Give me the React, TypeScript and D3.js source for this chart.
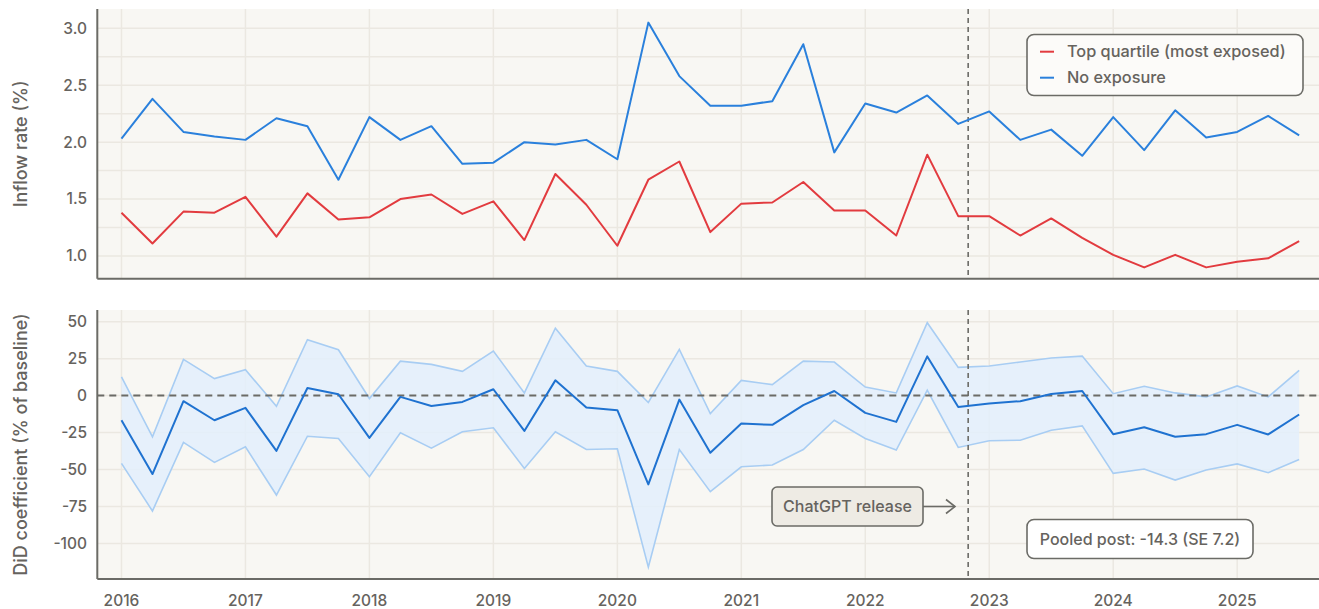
import React from "react";
import * as d3 from "d3";

// Quarterly periods 2016Q1 .. 2025Q3
const periods: number[] = [
  2016, 2016.25, 2016.5, 2016.75, 2017, 2017.25, 2017.5, 2017.75,
  2018, 2018.25, 2018.5, 2018.75, 2019, 2019.25, 2019.5, 2019.75,
  2020, 2020.25, 2020.5, 2020.75, 2021, 2021.25, 2021.5, 2021.75,
  2022, 2022.25, 2022.5, 2022.75, 2023, 2023.25, 2023.5, 2023.75,
  2024, 2024.25, 2024.5, 2024.75, 2025, 2025.25, 2025.5,
];

const topQuartile: number[] = [
  1.38, 1.11, 1.39, 1.38, 1.52, 1.17, 1.55, 1.32, 1.34, 1.50, 1.54,
  1.37, 1.48, 1.14, 1.72, 1.45, 1.09, 1.67, 1.83, 1.21, 1.46, 1.47,
  1.65, 1.40, 1.40, 1.18, 1.89, 1.35, 1.35, 1.18, 1.33, 1.16, 1.01,
  0.90, 1.01, 0.90, 0.95, 0.98, 1.13,
];

const noExposure: number[] = [
  2.03, 2.38, 2.09, 2.05, 2.02, 2.21, 2.14, 1.67, 2.22, 2.02, 2.14,
  1.81, 1.82, 2.00, 1.98, 2.02, 1.85, 3.05, 2.58, 2.32, 2.32, 2.36,
  2.86, 1.91, 2.34, 2.26, 2.41, 2.16, 2.27, 2.02, 2.11, 1.88, 2.22,
  1.93, 2.28, 2.04, 2.09, 2.23, 2.06,
];

const didCoef: number[] = [
  -16.7, -53.1, -3.8, -16.7, -8.3, -37.4, 5.1, 0.9, -28.6, -0.9, -7.0,
  -4.3, 4.3, -23.9, 10.3, -8.1, -9.9, -60.1, -2.7, -38.7, -18.9, -19.8,
  -6.5, 3.1, -11.7, -17.8, 26.5, -7.7, -5.4, -3.8, 1.1, 3.1, -26.1,
  -21.4, -27.9, -26.1, -19.8, -26.3, -12.8,
];

const didUpper: number[] = [
  12.6, -27.9, 24.5, 11.5, 17.5, -7.2, 37.8, 31.0, -2.0, 23.3, 21.1,
  16.4, 30.1, 1.8, 45.6, 20.0, 16.4, -4.7, 31.2, -12.2, 10.3, 7.4,
  23.3, 22.7, 5.8, 1.8, 49.3, 19.1, 20.0, 22.7, 25.4, 26.7, 1.3,
  6.3, 1.8, -0.9, 6.5, -0.9, 17.1,
];

const didLower: number[] = [
  -45.9, -78.1, -31.7, -45.2, -34.7, -67.3, -27.5, -29.0, -54.9, -25.2, -35.6,
  -24.5, -21.8, -49.3, -24.5, -36.5, -36.0, -116.1, -36.5, -65.0, -48.2, -47.0,
  -36.5, -16.7, -29.0, -36.9, 3.6, -35.1, -30.6, -30.2, -23.4, -20.5, -52.6,
  -49.7, -57.2, -50.4, -46.2, -52.2, -43.2,
];

const yearTicks: number[] = [2016, 2017, 2018, 2019, 2020, 2021, 2022, 2023, 2024, 2025];
const topTicks: number[] = [1.0, 1.5, 2.0, 2.5, 3.0];
const topGrid: number[] = [1.0, 1.25, 1.5, 1.75, 2.0, 2.25, 2.5, 2.75, 3.0];
const bottomTicks: number[] = [-100, -75, -50, -25, 0, 25, 50];
const releaseDate = 2022.83;
const legendLabels: string[] = ["Top quartile (most exposed)", "No exposure"];
const pooledText = "Pooled post: -14.3 (SE 7.2)";
const releaseText = "ChatGPT release";

const W = 1319;
const H = 609;
const FONT = "Inter, 'Noto Sans', sans-serif";
const RED = "#e23b3f";
const BLUE = "#2a80dc";
const BLUE_DARK = "#1f72d0";
const AXIS = "#6b6b66";
const TEXT = "#66635e";
const GRID = "#ebe8e1";
const BG = "#f8f7f3";

export default function App() {
  const left = 97.3;
  const right = 1319;
  const x = d3.scaleLinear().domain([2015.805, 2025.66]).range([left, right]);

  const topY0 = 9, topY1 = 278.7;
  const yTop = d3.scaleLinear().domain([0.8006, 3.1695]).range([topY1, topY0]);
  const botY0 = 310, botY1 = 579;
  const yBot = d3.scaleLinear().domain([-124.1, 57.9]).range([botY1, botY0]);

  const lineTop = (vals: number[]) =>
    d3.line<number>().x((_, i) => x(periods[i])).y((v) => yTop(v))(vals) || "";
  const lineBot = (vals: number[]) =>
    d3.line<number>().x((_, i) => x(periods[i])).y((v) => yBot(v))(vals) || "";
  const band =
    d3
      .area<number>()
      .x((_, i) => x(periods[i]))
      .y0((_, i) => yBot(didLower[i]))
      .y1((_, i) => yBot(didUpper[i]))(periods) || "";

  const xr = x(releaseDate);

  return (
    <div style={{ position: "absolute", left: 0, top: 0 }}>
      <svg width={W} height={H} style={{ display: "block", fontFamily: FONT }}>
        <rect x={0} y={0} width={W} height={H} fill="#ffffff" />
        {/* ===== Top panel ===== */}
        <rect x={left} y={topY0} width={right - left} height={topY1 - topY0} fill={BG} />
        {topGrid.map((t) => (
          <line key={"tg" + t} x1={left} x2={right} y1={yTop(t)} y2={yTop(t)} stroke={GRID} strokeWidth={1.5} />
        ))}
        {yearTicks.map((t) => (
          <line key={"tv" + t} x1={x(t)} x2={x(t)} y1={topY0} y2={topY1} stroke={GRID} strokeWidth={1.5} />
        ))}
        <line x1={xr} x2={xr} y1={topY0} y2={topY1} stroke={AXIS} strokeWidth={1.6} strokeDasharray="5,4" />
        <path d={lineTop(noExposure)} fill="none" stroke={BLUE} strokeWidth={2} strokeLinejoin="round" />
        <path d={lineTop(topQuartile)} fill="none" stroke={RED} strokeWidth={2} strokeLinejoin="round" />
        <line x1={left} x2={left} y1={topY0} y2={topY1} stroke={AXIS} strokeWidth={2} />
        <line x1={left} x2={right} y1={topY1} y2={topY1} stroke={AXIS} strokeWidth={2} />
        {topTicks.map((t) => (
          <text key={"tt" + t} x={87} y={yTop(t)} dy="0.35em" textAnchor="end" fontSize={15.5} fontWeight={500} fill={TEXT}>
            {t.toFixed(1)}
          </text>
        ))}
        <text
          transform={`translate(27,${(topY0 + topY1) / 2}) rotate(-90)`}
          textAnchor="middle"
          fontSize={18}
          fontWeight={500}
          fill={TEXT}
        >
          Inflow rate (%)
        </text>
        {/* Legend */}
        <g>
          <rect x={1027} y={34.5} width={276} height={61} rx={7} fill="#fcfbf9" stroke={AXIS} strokeWidth={1.6} />
          {legendLabels.map((lab, i) => (
            <g key={lab}>
              <line
                x1={1040}
                x2={1054}
                y1={51.7 + i * 26}
                y2={51.7 + i * 26}
                stroke={i === 0 ? RED : BLUE}
                strokeWidth={2}
              />
              <text x={1067} y={51.7 + i * 26} dy="0.35em" fontSize={16.3} fontWeight={500} fill={TEXT}>
                {lab}
              </text>
            </g>
          ))}
        </g>

        {/* ===== Bottom panel ===== */}
        <rect x={left} y={botY0} width={right - left} height={botY1 - botY0} fill={BG} />
        {bottomTicks.map((t) => (
          <line key={"bg" + t} x1={left} x2={right} y1={yBot(t)} y2={yBot(t)} stroke={GRID} strokeWidth={1.5} />
        ))}
        {yearTicks.map((t) => (
          <line key={"bv" + t} x1={x(t)} x2={x(t)} y1={botY0} y2={botY1} stroke={GRID} strokeWidth={1.5} />
        ))}
        <path d={band} fill="#e3eefb" fillOpacity={0.85} stroke="none" />
        <path d={lineBot(didUpper)} fill="none" stroke="#a8cdf3" strokeWidth={1.6} />
        <path d={lineBot(didLower)} fill="none" stroke="#a8cdf3" strokeWidth={1.6} />
        <line x1={left} x2={right} y1={yBot(0)} y2={yBot(0)} stroke={AXIS} strokeWidth={2} strokeDasharray="7,5" />
        <line x1={xr} x2={xr} y1={botY0} y2={botY1} stroke={AXIS} strokeWidth={1.6} strokeDasharray="5,4" />
        <path d={lineBot(didCoef)} fill="none" stroke={BLUE_DARK} strokeWidth={2} strokeLinejoin="round" />
        <line x1={left} x2={left} y1={botY0} y2={botY1} stroke={AXIS} strokeWidth={2} />
        <line x1={left} x2={right} y1={botY1} y2={botY1} stroke={AXIS} strokeWidth={2} />
        {bottomTicks.map((t) => (
          <text key={"bt" + t} x={87} y={yBot(t)} dy="0.35em" textAnchor="end" fontSize={15.5} fontWeight={500} fill={TEXT}>
            {t}
          </text>
        ))}
        {yearTicks.map((t) => (
          <text key={"xt" + t} x={x(t)} y={600.5} dy="0.35em" textAnchor="middle" fontSize={15.5} fontWeight={500} fill={TEXT}>
            {t}
          </text>
        ))}
        <text
          transform={`translate(27,${(botY0 + botY1) / 2}) rotate(-90)`}
          textAnchor="middle"
          fontSize={18}
          fontWeight={500}
          fill={TEXT}
        >
          DiD coefficient (% of baseline)
        </text>

        {/* ChatGPT release annotation */}
        <rect x={772} y={487} width={151} height={39} rx={5} fill="#eeebe4" stroke={AXIS} strokeWidth={1.6} />
        <text x={847.5} y={506.5} dy="0.35em" textAnchor="middle" fontSize={16} fontWeight={500} fill={TEXT}>
          {releaseText}
        </text>
        <line x1={923} x2={955} y1={506.5} y2={506.5} stroke={AXIS} strokeWidth={1.6} />
        <path d="M 946 499.5 L 955 506.5 L 946 513.5" fill="none" stroke={AXIS} strokeWidth={1.6} />

        {/* Pooled estimate box */}
        <rect x={1027} y={519.5} width={226} height={39} rx={7} fill="#ffffff" stroke={AXIS} strokeWidth={1.6} />
        <text x={1140} y={539} dy="0.35em" textAnchor="middle" fontSize={16} fontWeight={500} fill={TEXT}>
          {pooledText}
        </text>
      </svg>
    </div>
  );
}
